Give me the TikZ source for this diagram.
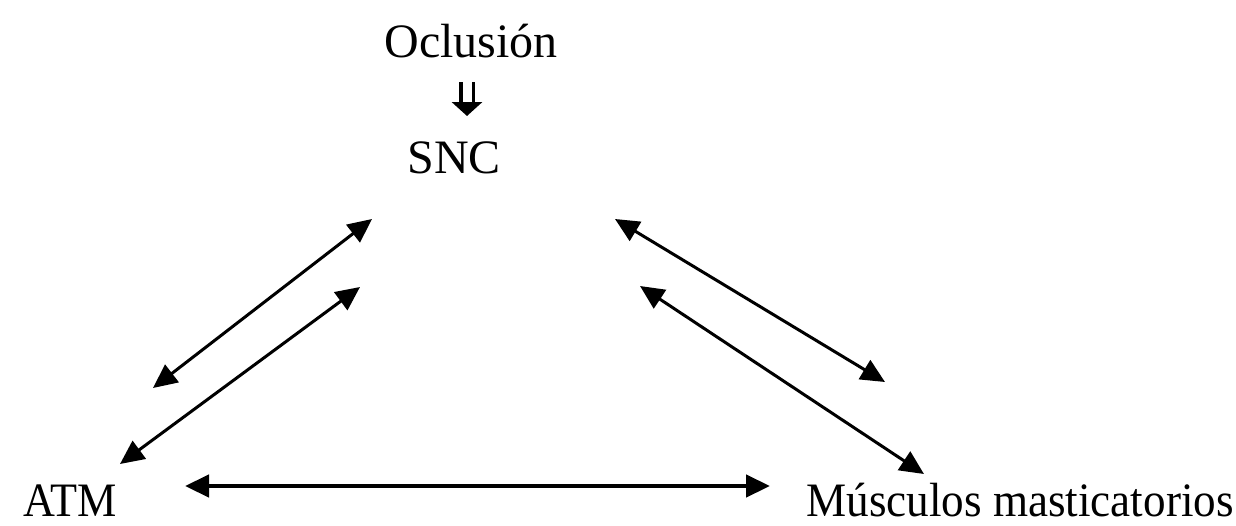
\documentclass[tikz,border=0pt]{standalone}
\usepackage{fontspec}
\setmainfont{Liberation Serif}
\usetikzlibrary{arrows.meta}

\begin{document}
\begin{tikzpicture}[x=0.5pt,y=-0.5pt,
  lbl/.style={font=\fontsize{24}{28}\selectfont, inner sep=0pt, text depth=0pt, anchor=base},
  biarrow/.style={line width=1.5pt, {Triangle[length=12pt,width=11pt]}-{Triangle[length=12pt,width=11pt]}}]
\useasboundingbox (0,0) rectangle (1236,525);
% labels
\node[lbl] (ocl) at (471,57) {Oclusión};
\node[lbl] (snc) at (454,173) {SNC};
\node[lbl, xscale=0.92] (atm) at (70,516) {ATM};
\node[lbl, xscale=0.94] (mus) at (1020,516) {Músculos masticatorios};
% free ends of the connectors
\coordinate (o1) at (467,82);
\coordinate (o2) at (467,116);
\coordinate (a1) at (153,388);
\coordinate (a2) at (372,219);
\coordinate (b1) at (120,464);
\coordinate (b2) at (360,287);
\coordinate (c1) at (615,219);
\coordinate (c2) at (885,382);
\coordinate (d1) at (640,286);
\coordinate (d2) at (924,474);
\coordinate (e1) at (185,486);
\coordinate (e2) at (770,486);
% connectors
\draw[double, double distance=4.5pt, line width=1.9pt, -{Triangle[length=7pt,width=15pt]}] (o1) -- (o2);
\draw[biarrow] (a1) -- (a2);
\draw[biarrow] (b1) -- (b2);
\draw[biarrow] (c1) -- (c2);
\draw[biarrow] (d1) -- (d2);
\draw[biarrow, line width=2.2pt] (e1) -- (e2);
\end{tikzpicture}
\end{document}
